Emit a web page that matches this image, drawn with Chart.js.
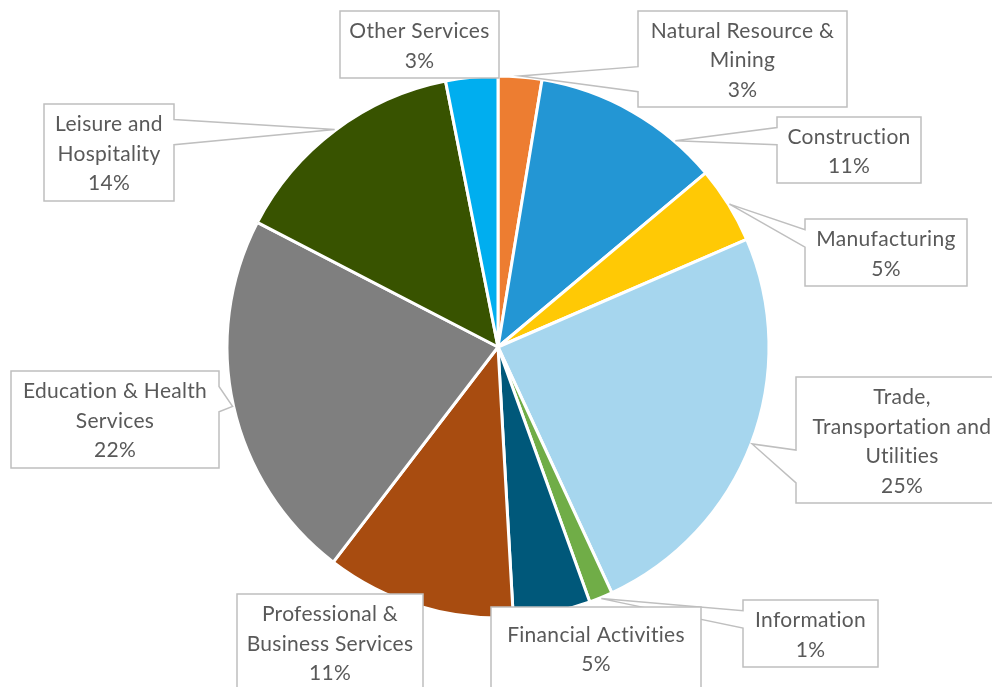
<!DOCTYPE html>
<html>
<head>
<meta charset="utf-8">
<script src="https://cdn.jsdelivr.net/npm/chart.js@4.4.0/dist/chart.umd.min.js"></script>
<style>
  html, body { margin: 0; padding: 0; background: #fff; }
  #wrap { width: 992px; height: 687px; }
</style>
</head>
<body>
<div id="wrap"><canvas id="pieChart" width="992" height="687"></canvas></div>
<script>
// category names, already wrapped the way the labels show them
const categories = [
  ['Natural Resource &', 'Mining'],
  ['Construction'],
  ['Manufacturing'],
  ['Trade,', 'Transportation and', 'Utilities'],
  ['Information'],
  ['Financial Activities'],
  ['Professional &', 'Business Services'],
  ['Education & Health', 'Services'],
  ['Leisure and', 'Hospitality'],
  ['Other Services']
];
const shares = [2.6, 11.3, 4.6, 24.6, 1.4, 4.6, 11.3, 22.2, 14.3, 3.1];
const sliceColors = ['#ED7D31', '#2396D4', '#FFC905', '#A6D6EE', '#70AD47',
                     '#00587A', '#A84C10', '#7F7F7F', '#385300', '#00AEEF'];

// callout boxes: left, top, width, height, where the pointer hits the slice (0..1 of its angle)
const labelBoxes = [
  [638, 11, 209, 96, 0.5],
  [777, 117, 144, 66, 0.77],
  [805, 219, 162, 67, 0.5],
  [796, 377, 212, 126, 0.5],
  [743, 600, 135, 67, 0.5],
  [491, 607, 210, 82, 0.5],
  [237, 594, 186, 97, 0.5],
  [11, 371, 208, 97, 0.5],
  [44, 104, 130, 97, 0.5],
  [340, 11, 159, 67, 0.5]
];

const total = shares.reduce((a, b) => a + b, 0);

const calloutPlugin = {
  id: 'callouts',
  afterDatasetsDraw(chart) {
    const ctx = chart.ctx;
    const arcs = chart.getDatasetMeta(0).data;
    ctx.save();
    ctx.font = '21px Lato';
    ctx.letterSpacing = '0.3px'; // also stops the "ti" ligature
    ctx.textAlign = 'center';
    ctx.textBaseline = 'middle';
    arcs.forEach((arc, i) => {
      const [l, t, w, h, frac] = labelBoxes[i];
      const r = l + w, b = t + h;
      const a = arc.startAngle + (arc.endAngle - arc.startAngle) * frac;
      const R = arc.outerRadius + 1;
      const tx = arc.x + Math.cos(a) * R;
      const ty = arc.y + Math.sin(a) * R;

      ctx.beginPath();
      const inside = tx >= l - 2 && tx <= r + 2 && ty >= t - 2 && ty <= b + 2;
      const low = ty > t + h / 2;
      const y0 = t + h * (low ? 0.58 : 0.16), y1 = t + h * (low ? 0.84 : 0.42);
      if (!inside && tx < l) {
        ctx.moveTo(l, t); ctx.lineTo(r, t); ctx.lineTo(r, b); ctx.lineTo(l, b);
        ctx.lineTo(l, y1); ctx.lineTo(tx, ty); ctx.lineTo(l, y0);
      } else if (!inside && tx > r) {
        ctx.moveTo(l, t); ctx.lineTo(r, t); ctx.lineTo(r, y0); ctx.lineTo(tx, ty);
        ctx.lineTo(r, y1); ctx.lineTo(r, b); ctx.lineTo(l, b);
      } else {
        ctx.rect(l, t, w, h);
      }
      ctx.closePath();
      ctx.fillStyle = '#fff';
      ctx.fill();
      ctx.lineWidth = 1.5;
      ctx.strokeStyle = '#BFBFBF';
      ctx.stroke();

      const lines = categories[i].concat([Math.round(shares[i] / total * 100) + '%']);
      const step = 29.5;
      const cy = t + h / 2 + 1.5;
      ctx.fillStyle = '#595959';
      lines.forEach((line, k) => {
        ctx.fillText(line, l + w / 2, cy + (k - (lines.length - 1) / 2) * step);
      });
    });
    ctx.restore();
  }
};

new Chart(document.getElementById('pieChart'), {
  type: 'pie',
  data: {
    labels: categories,
    datasets: [{
      data: shares,
      backgroundColor: sliceColors,
      borderColor: '#ffffff',
      borderWidth: 3,
      radius: 271
    }]
  },
  options: {
    responsive: false,
    animation: false,
    devicePixelRatio: 1,
    layout: { padding: { left: 229, right: 225, top: 78, bottom: 71 } },
    plugins: {
      legend: { display: false },
      tooltip: { enabled: false }
    }
  },
  plugins: [calloutPlugin]
});
</script>
</body>
</html>
